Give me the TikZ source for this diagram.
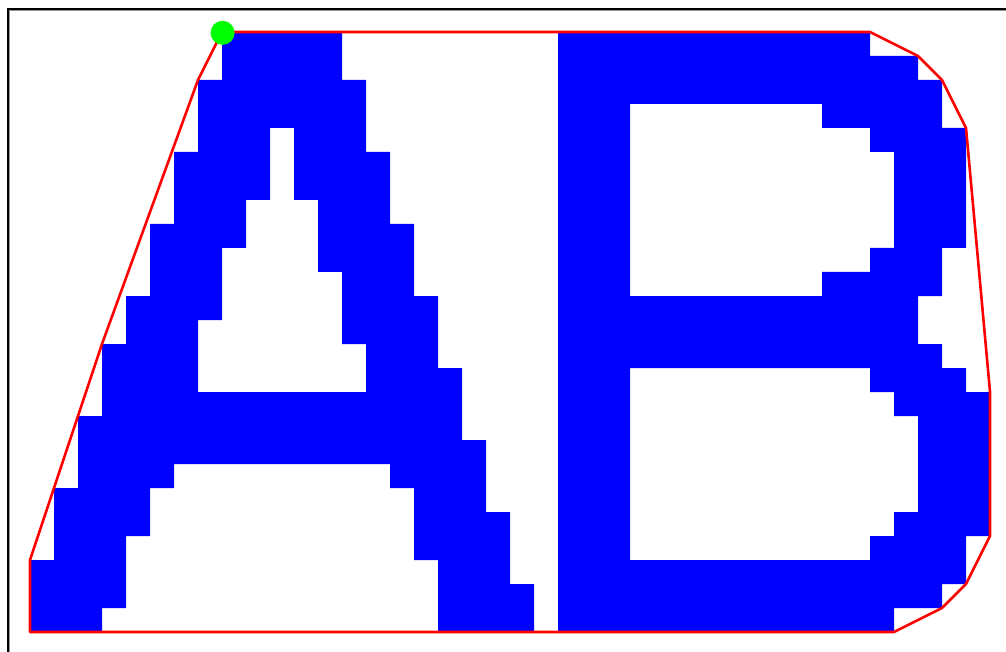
\documentclass[tikz,border=0pt]{standalone}
\definecolor{pureblue}{RGB}{0,0,255}
\definecolor{purered}{RGB}{255,0,0}
\definecolor{puregreen}{RGB}{0,255,0}
\definecolor{framegray}{RGB}{150,150,150}
\begin{document}
\begin{tikzpicture}[
  letter/.style={fill=pureblue, even odd rule},
  hull/.style={draw=purered, line width=2.6pt, line join=round},
  startdot/.style={fill=puregreen},
  frameline/.style={draw=black, line width=1.5pt},
  frameshade/.style={draw=framegray, line width=1pt}
]
\useasboundingbox (0,0) rectangle (1006pt,-652pt);
\fill[white] (0,0) rectangle (1006pt,-652pt);
\draw[frameshade] (9.8pt,-652pt) -- (9.8pt,-10.3pt) -- (1006pt,-10.3pt);
\draw[frameline] (8.2pt,-652pt) -- (8.2pt,-8.8pt) -- (1006pt,-8.8pt);
\begin{scope}[shift={(30pt,-32pt)}, x=24pt, y=-24pt]
  % letter A: outer outline with open lower notch, plus upper hole
  \fill[letter]
    (8,0) -- (13,0) -- (13,2) -- (14,2) -- (14,5) -- (15,5) -- (15,8) -- (16,8)
    -- (16,11) -- (17,11) -- (17,14) -- (18,14) -- (18,17) -- (19,17) -- (19,20)
    -- (20,20) -- (20,23) -- (21,23) -- (21,25) -- (17,25) -- (17,22) -- (16,22)
    -- (16,19) -- (15,19) -- (15,18) -- (6,18) -- (6,19) -- (5,19) -- (5,21)
    -- (4,21) -- (4,24) -- (3,24) -- (3,25) -- (0,25) -- (0,22) -- (1,22)
    -- (1,19) -- (2,19) -- (2,16) -- (3,16) -- (3,13) -- (4,13) -- (4,11)
    -- (5,11) -- (5,8) -- (6,8) -- (6,5) -- (7,5) -- (7,2) -- (8,2) -- cycle
    (10,4) -- (11,4) -- (11,7) -- (12,7) -- (12,10) -- (13,10) -- (13,13)
    -- (14,13) -- (14,15) -- (7,15) -- (7,12) -- (8,12) -- (8,9) -- (9,9)
    -- (9,7) -- (10,7) -- cycle;
  % letter B: outer outline plus two holes
  \fill[letter]
    (22,0) -- (35,0) -- (35,1) -- (37,1) -- (37,2) -- (38,2) -- (38,4) -- (39,4)
    -- (39,9) -- (38,9) -- (38,11) -- (37,11) -- (37,13) -- (38,13) -- (38,14)
    -- (39,14) -- (39,15) -- (40,15) -- (40,21) -- (39,21) -- (39,23) -- (38,23)
    -- (38,24) -- (36,24) -- (36,25) -- (22,25) -- cycle
    (25,3) -- (33,3) -- (33,4) -- (35,4) -- (35,5) -- (36,5) -- (36,9) -- (35,9)
    -- (35,10) -- (33,10) -- (33,11) -- (25,11) -- cycle
    (25,14) -- (35,14) -- (35,15) -- (36,15) -- (36,16) -- (37,16) -- (37,20)
    -- (36,20) -- (36,21) -- (35,21) -- (35,22) -- (25,22) -- cycle;
  % convex hull
  \coordinate (h0) at (8,0);
  \coordinate (h1) at (35,0);
  \coordinate (h2) at (37,1);
  \coordinate (h3) at (38,2);
  \coordinate (h4) at (39,4);
  \coordinate (h5) at (40,15);
  \coordinate (h6) at (40,21);
  \coordinate (h7) at (39,23);
  \coordinate (h8) at (38,24);
  \coordinate (h9) at (36,25);
  \coordinate (h10) at (0,25);
  \coordinate (h11) at (0,22);
  \coordinate (h12) at (3,13);
  \coordinate (h13) at (7,2);
  \draw[hull] (h0) -- (h1) -- (h2) -- (h3) -- (h4) -- (h5) -- (h6) -- (h7)
    -- (h8) -- (h9) -- (h10) -- (h11) -- (h12) -- (h13) -- cycle;
  \fill[startdot] ([shift={(0.6pt,-0.8pt)}]h0) circle[radius=12pt];
\end{scope}
\end{tikzpicture}
\end{document}
